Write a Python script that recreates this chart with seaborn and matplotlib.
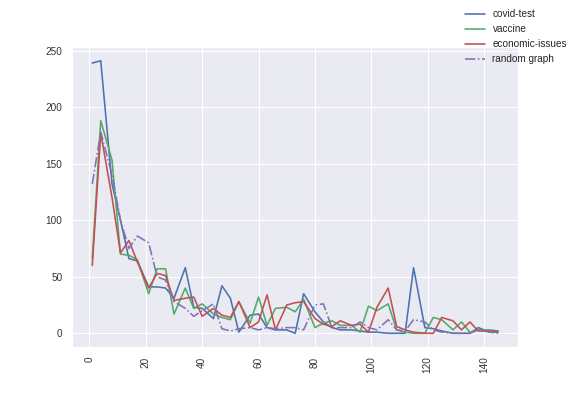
import numpy as np
import pandas as pd
import matplotlib
matplotlib.use("Agg")
import matplotlib.pyplot as plt
import seaborn as sns

# x positions of the samples
days = [1, 4, 8, 11, 14, 17, 21, 24, 27, 30, 34, 37, 40, 44, 47, 50, 53, 57,
        60, 63, 66, 70, 73, 76, 80, 83, 86, 89, 93, 96, 99, 102, 106, 109,
        112, 115, 119, 122, 125, 129, 132, 135, 138, 142, 145]

covid_test = [239, 241, 132, 100, 66, 64, 41, 41, 40, 31, 58, 23, 22, 13, 42,
              31, 1, 16, 17, 5, 3, 3, 0, 35, 19, 10, 5, 3, 3, 2, 1, 1, 0, 0,
              0, 58, 5, 4, 2, 0, 0, 0, 5, 1, 1]
vaccine = [66, 188, 153, 70, 69, 65, 35, 57, 57, 17, 40, 22, 26, 17, 14, 12,
           28, 9, 32, 7, 22, 23, 19, 30, 5, 9, 11, 7, 7, 1, 24, 20, 26, 3, 1,
           0, 0, 14, 12, 3, 10, 1, 3, 3, 2]
economic_issues = [60, 177, 120, 71, 82, 63, 40, 53, 51, 29, 31, 32, 15, 22,
                   16, 14, 28, 5, 10, 34, 3, 25, 27, 28, 13, 8, 6, 11, 7, 8, 1,
                   23, 40, 6, 3, 1, 0, 0, 14, 11, 3, 10, 2, 2, 2]
random_graph = [132, 178, 140, 100, 75, 86, 80, 50, 47, 28, 22, 15, 20, 26, 4,
                2, 4, 5, 3, 5, 4, 5, 5, 3, 25, 26, 5, 5, 5, 10, 5, 3, 12, 3, 2,
                12, 10, 3, 1, 0, 0, 0, 3, 1, 0]

series_names = ["covid-test", "vaccine", "economic-issues", "random graph"]
series_values = [covid_test, vaccine, economic_issues, random_graph]
colors = ["#4C72B0", "#55A868", "#C44E52", "#8172B2"]
styles = ["-", "-", "-", "-."]

sns.set_theme(style="darkgrid")
plt.rcParams["font.family"] = ["Liberation Sans", "DejaVu Sans"]

fig, ax = plt.subplots(figsize=(8, 5.5), dpi=72)
fig.subplots_adjust(left=0.125, right=0.9, bottom=0.124, top=0.881)

for name, vals, c, ls in zip(series_names, series_values, colors, styles):
    df = pd.DataFrame({"x": days, "y": vals})
    sns.lineplot(data=df, x="x", y="y", ax=ax, color=c, linestyle=ls,
                 linewidth=1.6, label=name, legend=False)

ax.set_xlabel("")
ax.set_ylabel("")
ax.set_xticks(range(0, 141, 20))
ax.set_yticks(range(0, 251, 50))
ax.tick_params(axis="x", labelrotation=90, labelsize=10, colors="#333333")
ax.tick_params(axis="y", labelsize=10, colors="#333333")

handles, labels = ax.get_legend_handles_labels()
fig.legend(handles, labels, loc="upper right", frameon=False, fontsize=10)

fig.savefig("out.png", dpi=72)
